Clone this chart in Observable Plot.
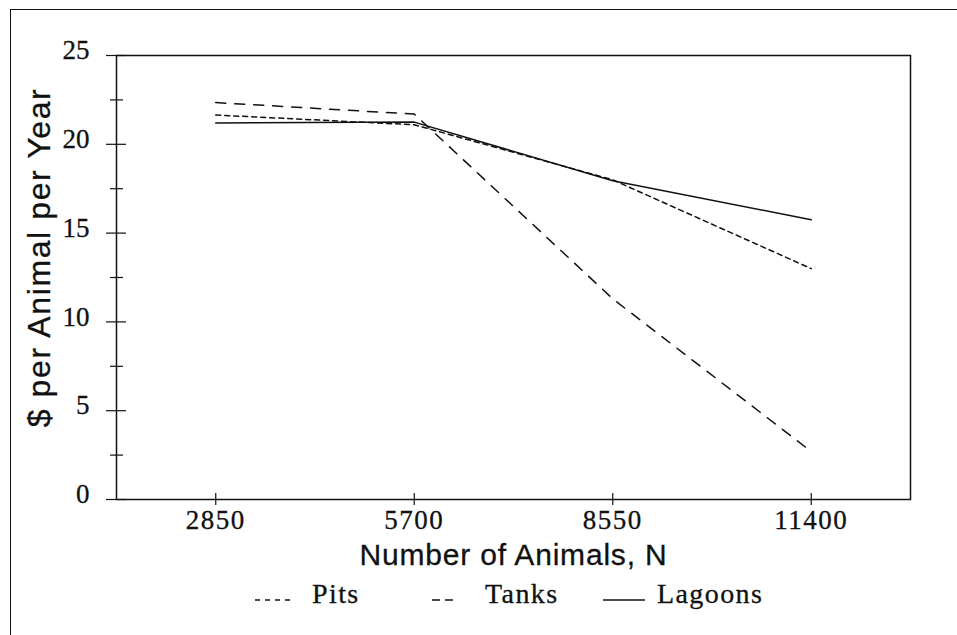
<!DOCTYPE html>
<html><head><meta charset="utf-8">
<script src="https://cdn.jsdelivr.net/npm/d3@7"></script>
<script src="https://cdn.jsdelivr.net/npm/@observablehq/plot@0.6"></script>
<style>
html,body{margin:0;padding:0;background:#fff;overflow:hidden;}
#wrap{position:relative;width:957px;height:635px;overflow:hidden;background:#fff;}
#box{position:absolute;left:10px;top:9px;width:1000px;height:700px;border:1.6px solid #111;box-sizing:border-box;}
#chart{position:absolute;left:0;top:0;}
#legend{position:absolute;left:0;top:575px;}
#wrap text{stroke:#111;stroke-width:0.3px;}
</style></head>
<body><div id="wrap"><div id="box"></div><div id="chart"></div><div id="legend"></div></div>
<script>
const animals = [2850, 5700, 8550, 11400];
const pits = [21.65, 21.1, 18.0, 13.0];
const tanks = [22.35, 21.7, 11.3, 2.7];
const lagoons = [21.2, 21.25, 17.95, 15.75];
const seriesNames = ["Pits", "Tanks", "Lagoons"];
const xTicks = [2850, 5700, 8550, 11400];
const yMajor = [0, 5, 10, 15, 20, 25];
const yMinor = [2.5, 7.5, 12.5, 17.5, 22.5];
const xLabel = "Number of Animals, N";
const yLabel = "$ per Animal per Year";

const dashes = {Pits: "5,4", Tanks: "10,9", Lagoons: null};
const values = {Pits: pits, Tanks: tanks, Lagoons: lagoons};
const rows = seriesNames.flatMap(s => animals.map((n, i) => ({s, n, v: values[s][i]})));

const W = 957, H = 575, mL = 116, mR = 47, mT = 55, mB = 76;
const pW = W - mL - mR, pH = H - mT - mB;
const ink = "#111";

const plot = Plot.plot({
  width: W, height: H,
  marginLeft: mL, marginRight: mR, marginTop: mT, marginBottom: mB,
  style: {background: "transparent", color: ink, overflow: "visible"},
  x: {domain: [1425, 12825]},
  y: {domain: [0, 25]},
  marks: [
    Plot.frame({stroke: ink, strokeWidth: 1.5}),
    Plot.ruleX(xTicks, {x: d => d, insetTop: pH - 6, insetBottom: -6, stroke: ink, strokeWidth: 1.2}),
    Plot.ruleY(yMajor, {y: d => d, insetLeft: -10, insetRight: pW - 10, stroke: ink, strokeWidth: 1.2}),
    Plot.ruleY(yMinor, {y: d => d, insetLeft: -6, insetRight: pW - 7, stroke: ink, strokeWidth: 1.2}),
    Plot.axisX(xTicks, {tickSize: 0, tickPadding: 10, fontSize: 27, fontFamily: "Liberation Serif", label: null, tickFormat: d => String(d), fill: ink}),
    Plot.axisY(yMajor, {tickSize: 0, tickPadding: 27, dy: -5, fontSize: 27, fontFamily: "Liberation Serif", label: null, tickFormat: d => String(d), fill: ink}),
    ...seriesNames.map(s => Plot.line(rows.filter(r => r.s === s), {
      x: "n", y: "v", stroke: ink, strokeWidth: 1.5, strokeDasharray: dashes[s]
    })),
    Plot.text([xLabel], {frameAnchor: "bottom", text: d => d, dy: 65, lineAnchor: "bottom", fontSize: 30, fontFamily: "Liberation Sans", fill: ink}),
    Plot.text([yLabel], {frameAnchor: "left", text: d => d, rotate: -90, dx: -77, dy: -20, lineAnchor: "middle", textAnchor: "middle", fontSize: 32, fontFamily: "Liberation Sans", fill: ink})
  ]
});
document.getElementById("chart").appendChild(plot);

const svg = d3.select(plot);
svg.selectAll("text").each(function() {
  const t = this.textContent;
  if (xTicks.map(String).includes(t)) d3.select(this).attr("letter-spacing", "1.5px");
  if (t === yLabel) d3.select(this).attr("letter-spacing", "1.6px");
  if (t === xLabel) d3.select(this).attr("letter-spacing", "0.8px");
});

// Legend
const legendItems = [
  {name: "Pits", x1: 255, x2: 291, tx: 312, dash: "5,5"},
  {name: "Tanks", x1: 432, x2: 453, tx: 485, dash: "8,5"},
  {name: "Lagoons", x1: 603, x2: 645, tx: 657, dash: null}
];
const lsvg = d3.select("#legend").append("svg").attr("width", W).attr("height", 60);
legendItems.forEach(it => {
  lsvg.append("line").attr("x1", it.x1).attr("x2", it.x2).attr("y1", 25).attr("y2", 25)
    .attr("stroke", ink).attr("stroke-width", 1.4).attr("stroke-dasharray", it.dash);
  lsvg.append("text").attr("x", it.tx).attr("y", 28).attr("font-family", "Liberation Serif")
    .attr("font-size", 28).attr("letter-spacing", "1.4px").attr("fill", ink).text(it.name);
});
</script>
</body></html>
